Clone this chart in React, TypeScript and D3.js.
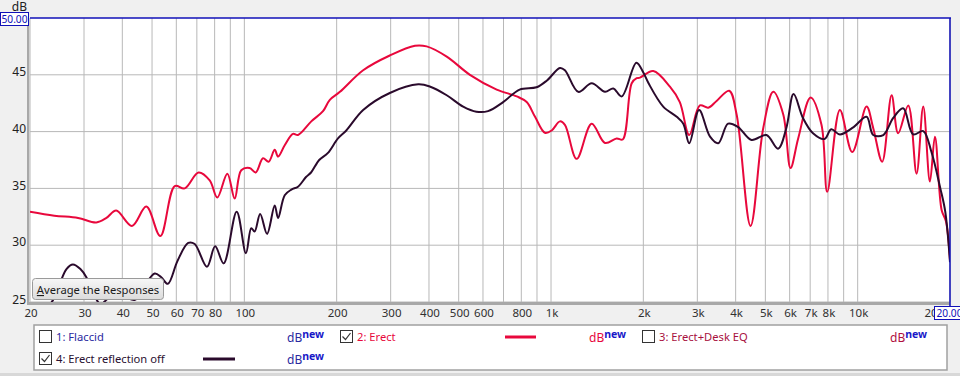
import React from "react";
import * as d3 from "d3";

// ---- data ----
const erectFreq = [20, 24, 28.7, 32.9, 35.5, 38.2, 43.0, 47.9, 53.2, 59.3, 63.9, 70.9, 77.1, 81.6, 88.0, 93.0, 97.7, 104, 108.9, 115, 120, 125.6, 128.8, 135.4, 144, 149.6, 165.3, 180.5, 190, 205, 244, 298, 360, 393, 457, 544, 665, 773, 833, 887, 955, 1005, 1069, 1110, 1212, 1357, 1500, 1637, 1713, 1833, 1902, 1950, 2155, 2442, 2630, 2823, 3058, 3256, 3467, 3811, 4029, 4474, 4920, 5305, 5719, 6040, 6397, 7022, 7620, 7956, 8750, 9600, 10690, 11240, 12020, 12900, 13550, 14620, 15560, 16360, 17200, 17860, 18780, 19400, 20000];
const erectDb = [32.95, 32.6, 32.4, 32.0, 32.4, 33.05, 31.7, 33.4, 30.8, 35.2, 35.0, 36.4, 35.7, 34.2, 36.3, 34.1, 36.6, 36.8, 36.4, 37.65, 37.35, 38.4, 37.8, 38.8, 39.8, 39.7, 40.9, 41.8, 42.8, 43.5, 45.4, 46.7, 47.56, 47.5, 46.6, 45.0, 43.7, 43.1, 42.6, 41.3, 39.9, 40.1, 40.9, 40.6, 37.6, 40.7, 39.0, 39.4, 39.3, 44.25, 44.7, 44.75, 45.33, 43.95, 42.6, 39.7, 42.3, 42.1, 42.7, 43.6, 41.5, 31.7, 40.3, 43.5, 41.5, 36.8, 39.4, 43.0, 40.6, 34.7, 41.9, 38.2, 42.2, 40.3, 37.35, 43.2, 39.85, 42.3, 36.3, 42.2, 35.6, 39.55, 33.1, 32.1, 28.7];

const reflFreq = [20, 22.5, 23.8, 25, 26.3, 27.6, 29.2, 30.5, 32.5, 34, 36, 40, 44, 47, 51, 53.5, 56.3, 60.5, 65.6, 68.9, 75.5, 80.3, 85.6, 94.4, 101.2, 105.3, 108, 112.6, 118.6, 125.6, 128.8, 135.4, 142.4, 149.6, 158.9, 165, 175.4, 187, 202, 215, 244, 298, 369, 404, 457, 517, 571, 623, 698, 790, 897, 970, 1069, 1110, 1227, 1357, 1500, 1596, 1700, 1898, 2000, 2080, 2322, 2570, 2700, 2823, 3040, 3300, 3510, 3780, 4075, 4505, 5040, 5500, 5850, 6180, 6630, 7150, 7800, 8200, 8750, 9700, 10690, 11240, 12120, 13060, 14070, 15170, 16360, 17400, 18600, 19300, 20000];
const reflDb = [23.0, 24.3, 25.2, 26.6, 27.9, 28.3, 27.9, 27.2, 25.5, 24.8, 25.3, 25.5, 25.2, 26.3, 27.5, 27.2, 26.6, 28.6, 30.2, 30.1, 28.1, 29.9, 28.4, 32.95, 29.3, 31.5, 31.2, 32.75, 31.0, 33.5, 32.4, 34.4, 34.9, 35.15, 36.0, 36.4, 37.5, 38.1, 39.4, 40.1, 41.9, 43.4, 44.16, 43.95, 43.2, 42.2, 41.75, 41.8, 42.6, 43.7, 43.9, 44.5, 45.6, 45.4, 43.5, 44.25, 43.5, 43.8, 43.1, 46.07, 45.2, 44.25, 42.2, 41.3, 40.7, 38.97, 41.9, 39.55, 38.97, 40.7, 40.4, 39.26, 39.7, 38.5, 40.3, 43.3, 41.2, 39.85, 39.35, 40.2, 39.75, 40.4, 41.3, 39.7, 39.7, 41.2, 42.05, 39.75, 40.05, 38.2, 35.0, 32.95, 28.5];

const xGridValues = [20, 30, 40, 50, 60, 70, 80, 90, 100, 200, 300, 400, 500, 600, 700, 800, 900, 1000, 2000, 3000, 4000, 5000, 6000, 7000, 8000, 9000, 10000, 20000];
const xTickValues = [20, 30, 40, 50, 60, 70, 80, 100, 200, 300, 400, 500, 600, 800, 1000, 2000, 3000, 4000, 5000, 6000, 7000, 8000, 10000, 20000];
const xTickLabels = ["20", "30", "40", "50", "60", "70", "80", "100", "200", "300", "400", "500", "600", "800", "1k", "2k", "3k", "4k", "5k", "6k", "7k", "8k", "10k", "20"];
const yTickValues = [45, 40, 35, 30, 25];
const yTickLabels = ["45", "40", "35", "30", "25"];

const legendNames = ["1: Flaccid", "2: Erect", "3: Erect+Desk EQ", "4: Erect reflection off"];
const legendChecked = [false, true, false, true];

const W = 960;
const H = 376;
const FONT = "'Noto Sans', 'DejaVu Sans', sans-serif";
const RED = "#e8083c";
const DARK = "#2a0a2c";
const BLUE = "#1818c8";

export default function App() {
  const L = 30, R = 950, T = 18, B = 302;
  const x = d3.scaleLog().domain([20, 20000]).range([L, R]);
  const y = d3.scaleLinear().domain([25, 50]).range([B, T]);
  const line = d3
    .line<[number, number]>()
    .x((d) => x(d[0]))
    .y((d) => y(d[1]))
    .curve(d3.curveCatmullRom.alpha(0.5));
  const erect = erectFreq.map((f, i) => [f, erectDb[i]] as [number, number]);
  const refl = reflFreq.map((f, i) => [f, reflDb[i]] as [number, number]);

  const legendItems = [
    { name: legendNames[0], color: "#2a2aa0", dbColor: "#2a2aa0", lx: 39, ly: 330, dbx: 287, line: null },
    { name: legendNames[1], color: RED, dbColor: RED, lx: 340, ly: 330, dbx: 589, line: [505, 536] },
    { name: legendNames[2], color: "#a8103e", dbColor: "#b0103e", lx: 642, ly: 330, dbx: 890, line: null },
    { name: legendNames[3], color: "#2a1030", dbColor: "#2a2aa0", lx: 39, ly: 352, dbx: 287, line: [203, 235] },
  ];
  const lineColors = [null, RED, null, DARK];

  return (
    <svg
      width={W}
      height={H}
      style={{ position: "absolute", left: 0, top: 0, display: "block" }}
      fontFamily={FONT}
    >
      <defs>
        <clipPath id="plotClip">
          <rect x={L} y={T} width={R - L} height={B - T} />
        </clipPath>
        <linearGradient id="btnGrad" x1="0" y1="0" x2="0" y2="1">
          <stop offset="0" stopColor="#f7f7f7" />
          <stop offset="1" stopColor="#dcdcdc" />
        </linearGradient>
      </defs>
      <rect x={0} y={0} width={W} height={H} fill="#f0f0f0" />
      {/* plot area */}
      <rect x={L} y={T} width={R - L} height={B - T} fill="#ffffff" />
      {/* grid */}
      {xGridValues.map((v) => (
        <line key={"gx" + v} x1={x(v)} x2={x(v)} y1={T} y2={B} stroke="#b8b8b8" strokeWidth={1} />
      ))}
      {yTickValues.map((v) => (
        <line key={"gy" + v} x1={L} x2={R} y1={y(v)} y2={y(v)} stroke="#b8b8b8" strokeWidth={1} />
      ))}
      {/* inset shadows */}
      <rect x={L - 3} y={T} width={3} height={B - T + 3} fill="#a8a8a8" />
      <rect x={L - 1} y={T} width={1} height={B - T} fill="#d0d0d0" />
      <rect x={L - 3} y={B} width={R - L + 3} height={3} fill="#a8a8a8" />
      {/* curves */}
      <g clipPath="url(#plotClip)">
        <path d={line(erect) || ""} fill="none" stroke={RED} strokeWidth={2} strokeLinejoin="round" />
        <path d={line(refl) || ""} fill="none" stroke={DARK} strokeWidth={2} strokeLinejoin="round" />
      </g>
      {/* blue borders */}
      <line x1={L} x2={R + 1} y1={T} y2={T} stroke="#1010b8" strokeWidth={1.5} />
      <line x1={R} x2={R} y1={T} y2={307} stroke="#1010b8" strokeWidth={1.5} />
      {/* y labels */}
      {yTickValues.map((v, i) => (
        <text key={"yl" + v} x={26} y={y(v) + (v === 25 ? -1 : -2)} textAnchor="end" dominantBaseline="middle" fontSize={12} fill="#202020">
          {yTickLabels[i]}
        </text>
      ))}
      <text x={27} y={11} textAnchor="end" fontSize={12} fill="#202020">dB</text>
      <rect x={0.5} y={12.5} width={28} height={13} fill="#ffffff" stroke="#1010b8" strokeWidth={1} />
      <text x={1.5} y={23} fontSize={11} textLength={26} lengthAdjust="spacingAndGlyphs" fill="#1010b8">50.00</text>
      {/* x labels */}
      {xTickValues.map((v, i) => (
        <text key={"xl" + v} x={i === xTickValues.length - 1 ? x(v) - 19 : x(v) + 1} y={317} textAnchor="middle" fontSize={11.5} fill="#303030">
          {xTickLabels[i]}
        </text>
      ))}
      <rect x={934.5} y={306.5} width={30} height={13} fill="#ffffff" stroke="#1010b8" strokeWidth={1} />
      <text x={936.5} y={317} fontSize={11} textLength={26} lengthAdjust="spacingAndGlyphs" fill="#1010b8">20.00</text>
      {/* button */}
      <rect x={32.5} y={278.5} width={131} height={21} rx={3} fill="url(#btnGrad)" stroke="#9a9a9a" />
      <text x={98} y={294} textAnchor="middle" fontSize={11.2} fill="#1a1a1a">
        <tspan textDecoration="underline">A</tspan>verage the Responses
      </text>
      {/* legend */}
      <rect x={34} y={325} width={913} height={45} fill="#ffffff" stroke="#a0a0a0" strokeWidth={1.5} />
      {legendItems.map((it, i) => (
        <g key={"lg" + i}>
          <rect x={it.lx + 0.5} y={it.ly + 0.5} width={12} height={12} fill="#ffffff" stroke="#333333" />
          {legendChecked[i] && (
            <path d={`M${it.lx + 2.5},${it.ly + 6.5} L${it.lx + 5.5},${it.ly + 9.5} L${it.lx + 10.5},${it.ly + 3}`} fill="none" stroke="#333" strokeWidth={1.2} />
          )}
          <text x={it.lx + 17} y={it.ly + 11} fontSize={11.2} fill={it.color}>{it.name}</text>
          {it.line && (
            <line x1={it.line[0]} x2={it.line[1]} y1={it.ly + 7} y2={it.ly + 7} stroke={lineColors[i] || "#000"} strokeWidth={3} />
          )}
          <text x={it.dbx} y={it.ly + 12} fontSize={12} fill={it.dbColor}>
            dB
            <tspan dy={-4} fontSize={10.5} fontWeight="bold" fill={BLUE}>new</tspan>
          </text>
        </g>
      ))}
      <rect x={0} y={373} width={W} height={3} fill="#d8d8d8" />
    </svg>
  );
}
